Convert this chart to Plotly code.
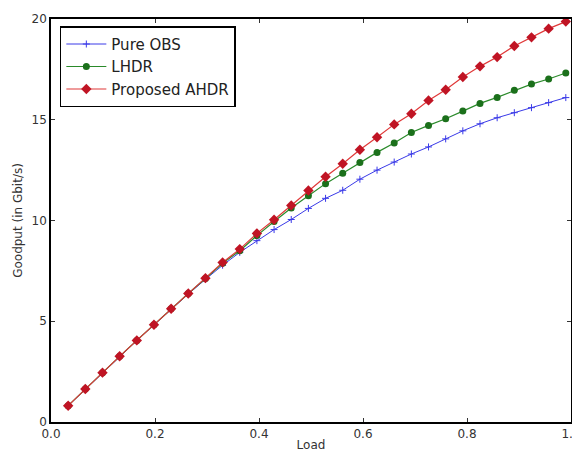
import plotly.graph_objects as go

load = [round(0.033 * i, 3) for i in range(1, 31)]

pure_obs = [0.81, 1.63, 2.44, 3.25, 4.04, 4.82, 5.60, 6.35, 7.08, 7.78,
            8.42, 9.00, 9.55, 10.05, 10.60, 11.10, 11.50, 12.05, 12.50, 12.90,
            13.30, 13.65, 14.05, 14.45, 14.80, 15.10, 15.35, 15.60, 15.85, 16.10]
lhdr = [0.81, 1.64, 2.45, 3.26, 4.05, 4.83, 5.62, 6.38, 7.12, 7.88,
        8.50, 9.25, 9.95, 10.62, 11.23, 11.83, 12.34, 12.88, 13.38, 13.85,
        14.37, 14.72, 15.05, 15.43, 15.81, 16.11, 16.46, 16.77, 17.02, 17.32]
ahdr = [0.81, 1.64, 2.45, 3.26, 4.05, 4.83, 5.62, 6.38, 7.14, 7.92,
        8.58, 9.36, 10.04, 10.75, 11.49, 12.17, 12.82, 13.51, 14.13, 14.77,
        15.30, 15.96, 16.49, 17.12, 17.65, 18.11, 18.66, 19.09, 19.52, 19.87]

x_ticks = [0.0, 0.2, 0.4, 0.6, 0.8, 1.0]
x_ticklabels = ["0.0", "0.2", "0.4", "0.6", "0.8", "1.0"]
y_ticks = [0, 5, 10, 15, 20]
y_ticklabels = ["0", "5", "10", "15", "20"]

fig = go.Figure()
fig.add_trace(go.Scatter(
    x=load, y=pure_obs, name="Pure OBS", mode="lines+markers",
    line=dict(color="#3a3ae8", width=1),
    marker=dict(symbol="cross-thin", size=5, color="#3a3ae8",
                line=dict(color="#3a3ae8", width=1))))
fig.add_trace(go.Scatter(
    x=load, y=lhdr, name="LHDR", mode="lines+markers",
    line=dict(color="#2a8a2a", width=1.2),
    marker=dict(symbol="circle", size=7, color="#1b701b")))
fig.add_trace(go.Scatter(
    x=load, y=ahdr, name="Proposed AHDR", mode="lines+markers",
    line=dict(color="#e03838", width=1.2),
    marker=dict(symbol="diamond", size=8, color="#c01424")))

axis_common = dict(
    showline=True, linecolor="black", linewidth=1.5, mirror="ticks",
    ticks="inside", ticklen=4, tickwidth=1, tickcolor="#333",
    showgrid=False, zeroline=False, ticklabeloverflow="allow",
    tickfont=dict(family="DejaVu Sans", size=12, color="#333"),
)

# the page body adds an 8 px offset, so the figure is sized to fit the window
fig.update_layout(
    width=572, height=444,
    margin=dict(l=43, r=9, t=11, b=30),
    paper_bgcolor="white", plot_bgcolor="white",
    font=dict(family="DejaVu Sans", color="#333"),
    xaxis=dict(range=[0, 1], tickvals=x_ticks, ticktext=x_ticklabels,
               title=dict(text="Load", font=dict(size=12, color="#333"), standoff=0),
               automargin=False, **axis_common),
    yaxis=dict(range=[0, 20], tickvals=y_ticks, ticktext=y_ticklabels,
               title=dict(text="Goodput (in Gbit/s)", font=dict(size=12, color="#333"), standoff=6),
               automargin=False, **axis_common),
    legend=dict(x=0.017, y=0.982, xanchor="left", yanchor="top",
                bgcolor="white", bordercolor="black", borderwidth=1.5,
                font=dict(family="DejaVu Sans", size=15, color="#222"),
                tracegroupgap=0, itemwidth=40),
    showlegend=True,
)

fig.write_html("out.html")
